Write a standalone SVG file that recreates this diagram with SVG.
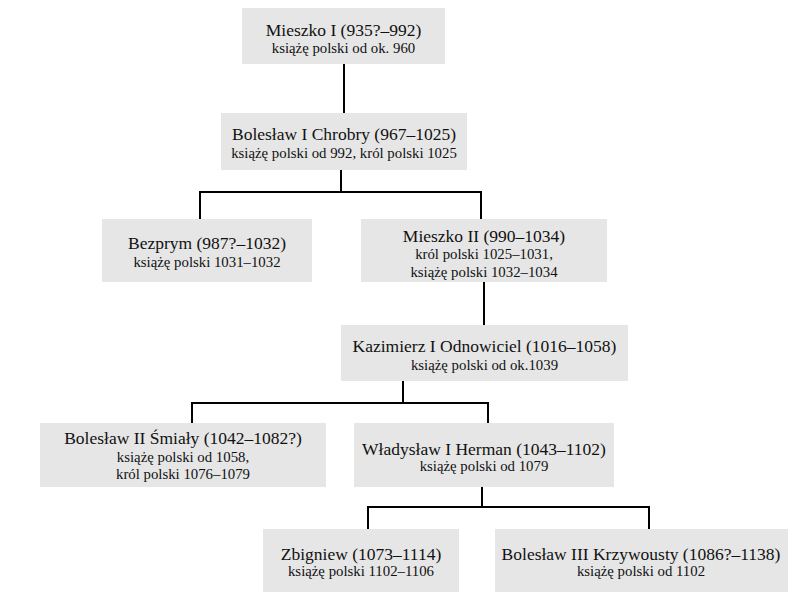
<svg xmlns="http://www.w3.org/2000/svg" width="795" height="598" viewBox="0 0 795 598">
<style>
.box{fill:#e6e6e6;stroke:none}
.t{font-family:"Liberation Serif","Times New Roman",serif;fill:#111;text-anchor:middle}
.n{font-size:17.5px}
.s{font-size:14.8px}
.c{fill:none;stroke:#000;stroke-width:2}
</style>
<rect width="795" height="598" fill="#fff"/>
<g id="connectors">
<path class="c" d="M344,64V113"/>
<path class="c" d="M341,170V192M200,219V192H481V219"/>
<path class="c" d="M484,282V325"/>
<path class="c" d="M403,381V403M192,423V403H488V423"/>
<path class="c" d="M482,487V507M368,529V507H649V529"/>
</g>
<g id="mieszko1">
<rect class="box" x="242" y="8" width="203" height="56"/>
<text class="t n" x="343.5" y="36">Mieszko I (935?–992)</text>
<text class="t s" x="343.5" y="53">książę polski od ok. 960</text>
</g>
<g id="boleslaw1">
<rect class="box" x="221" y="113" width="246" height="57"/>
<text class="t n" x="344" y="140">Bolesław I Chrobry (967–1025)</text>
<text class="t s" x="344" y="158">książę polski od 992, król polski 1025</text>
</g>
<g id="bezprym">
<rect class="box" x="102" y="219" width="210" height="63"/>
<text class="t n" x="207" y="249">Bezprym (987?–1032)</text>
<text class="t s" x="207" y="267">książę polski 1031–1032</text>
</g>
<g id="mieszko2">
<rect class="box" x="361" y="219" width="246" height="63"/>
<text class="t n" x="484" y="242">Mieszko II (990–1034)</text>
<text class="t s" x="484" y="259">król polski 1025–1031,</text>
<text class="t s" x="484" y="277">książę polski 1032–1034</text>
</g>
<g id="kazimierz1">
<rect class="box" x="341" y="325" width="287" height="56"/>
<text class="t n" x="484.5" y="352">Kazimierz I Odnowiciel (1016–1058)</text>
<text class="t s" x="484.5" y="370">książę polski od ok.1039</text>
</g>
<g id="boleslaw2">
<rect class="box" x="40" y="423" width="286" height="64"/>
<text class="t n" x="183" y="444">Bolesław II Śmiały (1042–1082?)</text>
<text class="t s" x="183" y="462">książę polski od 1058,</text>
<text class="t s" x="183" y="479">król polski 1076–1079</text>
</g>
<g id="wladyslaw1">
<rect class="box" x="354" y="423" width="260" height="64"/>
<text class="t n" x="484" y="455">Władysław I Herman (1043–1102)</text>
<text class="t s" x="484" y="471">książę polski od 1079</text>
</g>
<g id="zbigniew">
<rect class="box" x="263" y="529" width="196" height="63"/>
<text class="t n" x="361" y="560">Zbigniew (1073–1114)</text>
<text class="t s" x="361" y="576">książę polski 1102–1106</text>
</g>
<g id="boleslaw3">
<rect class="box" x="495" y="529" width="293" height="63"/>
<text class="t n" x="641" y="560">Bolesław III Krzywousty (1086?–1138)</text>
<text class="t s" x="641" y="576">książę polski od 1102</text>
</g>
</svg>
